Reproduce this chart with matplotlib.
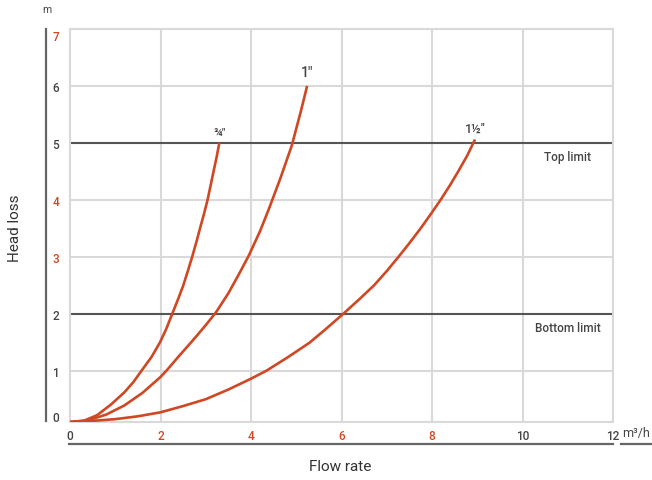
import matplotlib
matplotlib.use("Agg")
import matplotlib.pyplot as plt
from matplotlib.lines import Line2D

plt.rcParams['font.family'] = ['Roboto', 'DejaVu Sans']

# ---- data ----
q_34 = [0, 0.3, 0.6, 0.91, 1.2, 1.4, 1.58, 1.8, 1.99, 2.13, 2.26, 2.4, 2.5, 2.6,
        2.7, 2.8, 2.87, 2.96, 3.04, 3.12, 3.17, 3.24, 3.3]
h_34 = [0.1, 0.12, 0.22, 0.41, 0.62, 0.8, 1.0, 1.24, 1.5, 1.74, 2.0, 2.28, 2.49, 2.74,
        3.0, 3.28, 3.49, 3.75, 4.0, 4.3, 4.49, 4.75, 5.0]

q_1 = [0, 0.4, 0.8, 1.2, 1.6, 2.0, 2.13, 2.4, 2.7, 3.0, 3.23, 3.5, 3.75, 3.95,
       4.2, 4.4, 4.65, 4.9, 5.1, 5.24]
h_1 = [0.1, 0.13, 0.23, 0.39, 0.61, 0.89, 1.0, 1.25, 1.52, 1.8, 2.03, 2.36, 2.72, 3.02,
       3.45, 3.85, 4.38, 4.95, 5.55, 6.0]

q_112 = [0, 0.5, 1.0, 1.5, 2.0, 2.5, 3.0, 3.5, 4.0, 4.34, 4.8, 5.29, 5.65, 6.04,
         6.4, 6.72, 7.0, 7.26, 7.5, 7.74, 8.0, 8.19, 8.4, 8.58, 8.78, 8.95]
h_112 = [0.1, 0.12, 0.15, 0.2, 0.27, 0.38, 0.5, 0.67, 0.86, 1.0, 1.23, 1.49, 1.73, 2.0,
         2.26, 2.5, 2.75, 3.0, 3.24, 3.49, 3.78, 4.0, 4.26, 4.5, 4.78, 5.06]

series_labels = ['¾"', '1"', '1½"']
x_ticks = [0, 2, 4, 6, 8, 10, 12]
x_tick_red = [False, True, True, True, True, False, False]
y_ticks = [0, 1, 2, 3, 4, 5, 6, 7]
y_tick_red = [False, False, False, True, True, False, False, True]
limits = [5, 2]
limit_labels = ['Top limit', 'Bottom limit']

RED = '#cf4723'
DARK = '#444444'
GRID = '#d9d9d9'
LIM = '#555555'

fig = plt.figure(figsize=(6.52, 4.81), dpi=100)
ax = fig.add_axes([70/652, 1-423/481, (613-70)/652, (423-30)/481])
ax.set_xlim(0, 12)
ax.set_ylim(0.1, 7)

# grid
for x in x_ticks[1:]:
    ax.axvline(x, color=GRID, lw=1.5, zorder=1)
for y in y_ticks[1:]:
    if y not in limits:
        ax.axhline(y, color=GRID, lw=1.5, zorder=1)
for y, lab in zip(limits, limit_labels):
    ax.axhline(y, color=LIM, lw=1.5, zorder=2)
    ax.text(11, y - 0.24, lab, ha='center', va='center', fontsize=8.5,
            fontweight='medium', color=DARK)

for s in ax.spines.values():
    s.set_color(GRID)
    s.set_linewidth(1.5)

# curves
for qs, hs in [(q_34, h_34), (q_1, h_1), (q_112, h_112)]:
    ax.plot(qs, hs, color=RED, lw=1.9, solid_capstyle='butt',
            solid_joinstyle='round', zorder=3)

ax.text(q_34[-1], h_34[-1] + 0.1, series_labels[0], ha='center', va='bottom',
        fontsize=8, fontweight='medium', color=DARK)
ax.text(q_1[-1], h_1[-1] + 0.12, series_labels[1], ha='center', va='bottom',
        fontsize=10, fontweight='medium', color=DARK)
ax.text(q_112[-1], h_112[-1] + 0.08, series_labels[2], ha='center', va='bottom',
        fontsize=9, fontweight='medium', color=DARK)

# ticks
ax.set_xticks(x_ticks)
ax.set_xticklabels([str(v) for v in x_ticks])
ypos = [0.21, 1, 2, 3, 4, 5, 6, 6.9]
ax.set_yticks(ypos)
ax.set_yticklabels([str(v) for v in y_ticks])
ax.tick_params(length=0, labelsize=8.5)
ax.tick_params(axis='x', pad=5)
ax.tick_params(axis='y', pad=8)
for lab, r in zip(ax.get_xticklabels(), x_tick_red):
    lab.set_color(RED if r else DARK)
    lab.set_fontweight('medium')
for lab, r in zip(ax.get_yticklabels(), y_tick_red):
    lab.set_color(RED if r else DARK)
    lab.set_fontweight('medium')

# outer axis lines
W, H = 652, 481
fig.add_artist(Line2D([46/W, 46/W], [1-30/H, 1-422/H], color='#666666', lw=1.6))
fig.add_artist(Line2D([69/W, 613/W], [1-445/H, 1-445/H], color='#666666', lw=1.6))
fig.add_artist(Line2D([621/W, 652/W], [1-445/H, 1-445/H], color='#666666', lw=1.6))

fig.text(47/W, 1-10/H, 'm', ha='center', va='center', fontsize=7.5, color=DARK)
fig.text(636/W, 1-434/H, 'm³/h', ha='center', va='center', fontsize=9, color=DARK)
fig.text(15/W, 1-228/H, 'Head loss', ha='center', va='center', rotation=90,
         fontsize=11, color='#333333')
fig.text(340/W, 1-467/H, 'Flow rate', ha='center', va='center', fontsize=11,
         color='#333333')

fig.savefig('out.png', dpi=100)
